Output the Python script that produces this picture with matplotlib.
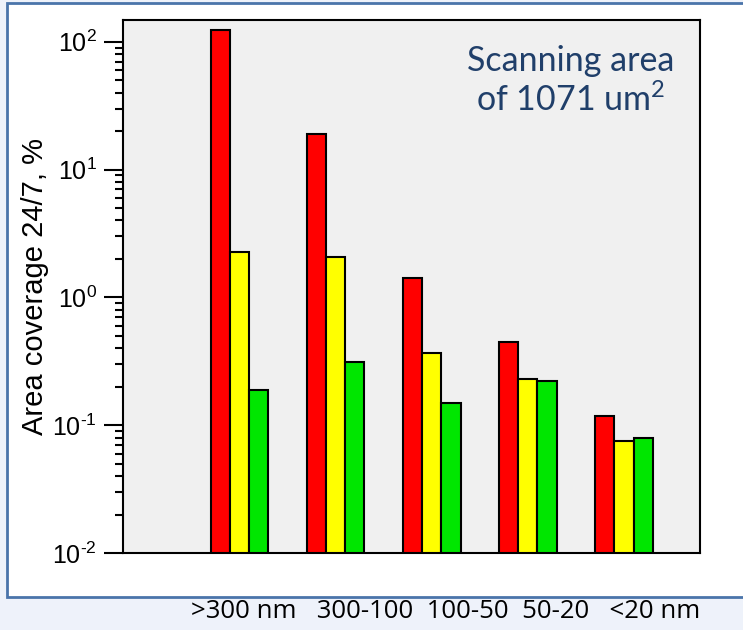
import matplotlib
matplotlib.use('Agg')
import matplotlib.pyplot as plt
from matplotlib.patches import Rectangle
from matplotlib.ticker import FuncFormatter
import numpy as np

# size classes and area coverage (%) for the three series
categories = ['>300 nm', '300-100', '100-50', '50-20', '<20 nm']
red_vals = [124, 18.9, 1.41, 0.45, 0.119]
yellow_vals = [2.25, 2.06, 0.365, 0.228, 0.075]
green_vals = [0.19, 0.315, 0.15, 0.22, 0.079]

plt.rcParams['font.family'] = ['Liberation Sans', 'DejaVu Sans']
plt.rcParams['mathtext.fontset'] = 'custom'
plt.rcParams['mathtext.rm'] = 'Liberation Sans'
plt.rcParams['mathtext.it'] = 'Liberation Sans:italic'
plt.rcParams['mathtext.bf'] = 'Liberation Sans:bold'
plt.rcParams['mathtext.default'] = 'regular'
plt.rcParams['axes.unicode_minus'] = False

fig = plt.figure(figsize=(7.43, 6.3), dpi=100, facecolor='#EEF2FA')

# white framed panel behind the chart
frame = Rectangle((7 / 743, 33 / 630), 1.0, 594 / 630, transform=fig.transFigure,
                  facecolor='white', edgecolor='#4A74AA', linewidth=2, zorder=-5)
fig.patches.append(frame)

ax = fig.add_axes([123 / 743, 77 / 630, 577 / 743, 533 / 630])
ax.set_facecolor('#F0F0F0')

x = np.arange(len(categories))
w = 0.2
ax.bar(x - w, red_vals, w, color='#FF0000', edgecolor='black', linewidth=1.5)
ax.bar(x, yellow_vals, w, color='#FFFF00', edgecolor='black', linewidth=1.5)
ax.bar(x + w, green_vals, w, color='#00E600', edgecolor='black', linewidth=1.5)

ax.set_yscale('log')
ax.set_ylim(1e-2, 148)
ax.set_xlim(-1.21, 4.79)


def pow_label(v, pos):
    e = int(round(np.log10(v)))
    return '$10^{\\text{%d}}$' % e


ax.yaxis.set_major_formatter(FuncFormatter(pow_label))

for s in ax.spines.values():
    s.set_linewidth(1.5)

ax.tick_params(axis='y', which='major', direction='out', length=14, width=1.5,
               labelsize=18, pad=5)
ax.tick_params(axis='y', which='minor', direction='out', length=5.5, width=1.5)
ax.set_xticks([])

ax.set_ylabel('Area coverage 24/7, %', fontsize=21, labelpad=2)

ax.text(0.776, 0.886, 'Scanning area\nof 1071 um$^2$', transform=ax.transAxes,
        ha='center', va='center', fontsize=24.5, fontfamily='Lato',
        color='#203F6A', linespacing=1.2)

# category captions sit below the framed panel as one text line
seps = ['   ', '  ', '  ', '   ']
caption = categories[0]
for sep, c in zip(seps, categories[1:]):
    caption += sep + c
fig.text(446 / 743, 1 - 612 / 630, caption, ha='center', va='center',
         fontsize=18.5, fontfamily='Open Sans', color='black')

fig.savefig('out.png', dpi=100, facecolor=fig.get_facecolor())
